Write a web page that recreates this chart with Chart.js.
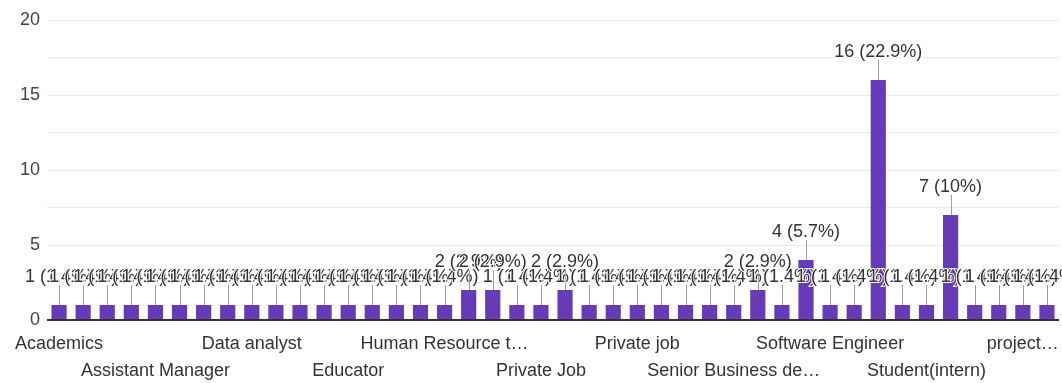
<!DOCTYPE html>
<html>
<head>
<meta charset="utf-8">
<script src="https://cdn.jsdelivr.net/npm/chart.js@4"></script>
<style>
  html, body { margin: 0; padding: 0; background: #fff; }
  #caixa { width: 1062px; height: 383px; position: relative; }
</style>
</head>
<body>
<div id="caixa"><canvas id="grafico"></canvas></div>
<script>
// Respostas por ocupação (ordem alfabética, como no formulário)
const categorias = [
    "Academics", "Accountant", "Administrator", "Analyst", "Assistant Manager",
    "Assistant Professor", "Banker", "Business Analyst", "Data analyst", "Data scientist",
    "Designer", "Doctor", "Educator", "Engineer", "Entrepreneur",
    "Freelancer", "Human Resource team", "IT Professional", "Lecturer", "Marketing",
    "Private Job", "Private employee", "Private firm", "Private hospital", "Private job",
    "Professor", "Research scholar", "Sales executive", "Senior Business development", "Service",
    "Social worker", "Software Developer", "Software Engineer", "Software engineer", "Student",
    "Student (MBA)", "Student(intern)", "Teacher", "Trainee", "Unemployed",
    "project manager", "student"
];
const respostas = [
    1, 1, 1, 1, 1, 1, 1, 1, 1, 1,
    1, 1, 1, 1, 1, 1, 1, 2, 2, 1,
    1, 2, 1, 1, 1, 1, 1, 1, 1, 2,
    1, 4, 1, 1, 16, 1, 1, 7, 1, 1,
    1, 1
];
const ticksY = [0, 5, 10, 15, 20];

const total = respostas.reduce((a, b) => a + b, 0);
const fonte = '"Liberation Sans", Arial, sans-serif';

function porcentagem(v) {
    return (Math.round(v / total * 1000) / 10) + '%';
}

// corta o texto com reticências até caber na largura
function truncar(ctx, texto, largura) {
    if (ctx.measureText(texto).width <= largura) return texto;
    let t = texto;
    while (t.length > 1 && ctx.measureText(t + '…').width > largura) {
        t = t.slice(0, -1);
    }
    return t.trimEnd() + '…';
}

// 🔹 Rótulo "n (p%)" acima de cada barra, com linha guia
const rotulosBarras = {
    id: 'rotulosBarras',
    afterDatasetsDraw(chart) {
        const ctx = chart.ctx;
        const meta = chart.getDatasetMeta(0);
        ctx.save();
        ctx.font = '18px ' + fonte;
        ctx.textAlign = 'center';
        ctx.textBaseline = 'middle';
        meta.data.forEach((barra, i) => {
            const texto = respostas[i] + ' (' + porcentagem(respostas[i]) + ')';
            ctx.strokeStyle = '#9e9e9e';
            ctx.lineWidth = 1;
            ctx.beginPath();
            ctx.moveTo(Math.round(barra.x) + 0.5, barra.y - 20);
            ctx.lineTo(Math.round(barra.x) + 0.5, barra.y);
            ctx.stroke();

            ctx.strokeStyle = '#fff';
            ctx.lineWidth = 2;
            ctx.strokeText(texto, barra.x, barra.y - 28);
            ctx.fillStyle = '#333';
            ctx.fillText(texto, barra.x, barra.y - 28);
        });
        ctx.restore();
    }
};

// 🔹 Nomes das categorias em duas linhas alternadas, um a cada quatro
const rotulosEixoX = {
    id: 'rotulosEixoX',
    afterDraw(chart) {
        const ctx = chart.ctx;
        const escala = chart.scales.x;
        const base = chart.chartArea.bottom;
        ctx.save();
        ctx.font = '18px ' + fonte;
        ctx.textAlign = 'center';
        ctx.textBaseline = 'middle';
        ctx.fillStyle = '#333';
        categorias.forEach((nome, i) => {
            if (i % 4 !== 0) return;
            const linha = (i % 8 === 0) ? 0 : 1;
            const x = escala.getPixelForValue(i);
            const largura = Math.min(175, 2 * Math.min(x, chart.width - x));
            ctx.fillText(truncar(ctx, nome, largura), x, base + 24 + linha * 27);
        });
        ctx.restore();
    }
};

const ctx = document.getElementById("grafico").getContext("2d");

new Chart(ctx, {
    type: 'bar',
    data: {
        labels: categorias,
        datasets: [{
            data: respostas,
            backgroundColor: '#673ab7',
            borderWidth: 0,
            categoryPercentage: 1,
            barPercentage: 0.63
        }]
    },
    options: {
        responsive: true,
        maintainAspectRatio: false,
        animation: false,
        layout: {
            padding: { left: 0, top: 20, right: 3, bottom: 63 }
        },
        plugins: {
            legend: { display: false },
            tooltip: { enabled: false }
        },
        scales: {
            x: {
                display: false
            },
            y: {
                min: 0,
                max: 20,
                border: { display: false },
                afterFit(escala) { escala.width = 47; },
                grid: {
                    drawTicks: false,
                    color: (c) => c.tick && c.tick.value === 0 ? '#333' : '#ebebeb',
                    lineWidth: (c) => c.tick && c.tick.value === 0 ? 2 : 1
                },
                ticks: {
                    stepSize: 2.5,
                    padding: 7,
                    color: '#444',
                    font: { size: 18, family: fonte },
                    callback: (v) => ticksY.includes(v) ? v : ''
                }
            }
        }
    },
    plugins: [rotulosBarras, rotulosEixoX]
});
</script>
</body>
</html>
